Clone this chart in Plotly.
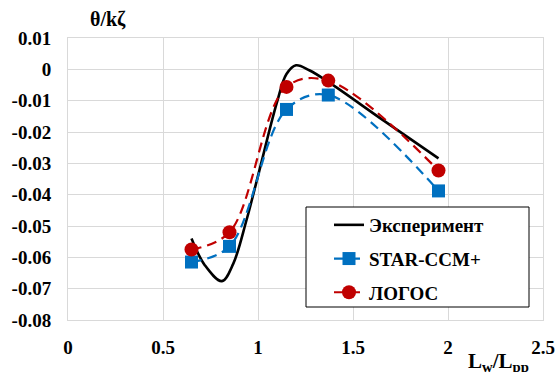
import plotly.graph_objects as go

# Experimental curve (smoothed)
exp_x = [0.65, 0.72, 0.81, 0.87, 0.94, 1.0, 1.1, 1.15, 1.2, 1.27, 1.37, 1.66, 1.95]
exp_y = [-0.054, -0.0625, -0.0676, -0.062, -0.048, -0.034, -0.0105, -0.0015, 0.0013,
         -0.0003, -0.004, -0.0163, -0.0284]

# STAR-CCM+ results
star_x = [0.65, 0.85, 1.15, 1.37, 1.95]
star_y = [-0.0615, -0.0565, -0.0128, -0.0082, -0.0388]

# LOGOS results
logos_x = [0.65, 0.85, 1.15, 1.37, 1.95]
logos_y = [-0.0575, -0.052, -0.0056, -0.0036, -0.0323]

x_ticks = [0, 0.5, 1, 1.5, 2, 2.5]
y_ticks = [0.01, 0, -0.01, -0.02, -0.03, -0.04, -0.05, -0.06, -0.07, -0.08]

FONT = "Liberation Serif"
BLUE = "#0070C0"
RED = "#C00000"

fig = go.Figure()
fig.add_trace(go.Scatter(
    x=exp_x, y=exp_y, name="Эксперимент", mode="lines",
    line=dict(color="black", width=2.6, shape="spline", smoothing=1),
    legendgroup="a",
))
fig.add_trace(go.Scatter(
    x=star_x, y=star_y, name="STAR-CCM+", mode="lines+markers",
    line=dict(color=BLUE, width=2.2, dash="10px,6px", shape="spline", smoothing=1),
    marker=dict(symbol="square", size=13, color=BLUE),
    legendgroup="b",
))
fig.add_trace(go.Scatter(
    x=logos_x, y=logos_y, name="ЛОГОС", mode="lines+markers",
    line=dict(color=RED, width=2.2, dash="10px,6px", shape="spline", smoothing=1),
    marker=dict(symbol="circle", size=14, color=RED),
    legendgroup="c",
))

# plot area in pixels: x 68..543, y 38..320
W, H = 555, 372
L, R, T, B = 68, 12, 38, 52
pw, ph = W - L - R, H - T - B


def px(xp):
    return (xp - L) / pw


def py(yp):
    return (H - B - yp) / ph


grid = "#d9d9d9"
tfont = dict(family=FONT, size=19, color="black", weight="bold")
fig.update_layout(
    template="none",
    width=W, height=H,
    margin=dict(l=L, r=R, t=T, b=B),
    paper_bgcolor="white", plot_bgcolor="white",
    font=tfont,
    showlegend=True,
    legend=dict(
        x=px(329), y=py(206), xanchor="left", yanchor="top",
        borderwidth=0, bgcolor="rgba(0,0,0,0)",
        traceorder="grouped", tracegroupgap=6,
        font=tfont,
    ),
    shapes=[
        # legend frame
        dict(type="rect", xref="paper", yref="paper",
             x0=px(306), x1=px(529), y0=py(307), y1=py(207),
             line=dict(color="black", width=1), fillcolor="white", layer="above"),
    ],
    xaxis=dict(
        range=[0, 2.5], tickvals=x_ticks, ticktext=[f"{v:g}" for v in x_ticks],
        tickfont=tfont,
        showgrid=True, gridcolor=grid, gridwidth=1, zeroline=False,
        showline=True, linecolor=grid, mirror=True, ticks="", ticklabelstandoff=10,
    ),
    yaxis=dict(
        range=[-0.08, 0.01], tickvals=y_ticks, ticktext=[f"{v:g}" for v in y_ticks],
        tickfont=tfont,
        showgrid=True, gridcolor=grid, gridwidth=1, zeroline=False,
        showline=True, linecolor=grid, mirror=True, ticks="", ticklabelstandoff=12,
    ),
    annotations=[
        dict(text="θ/kζ", xref="paper", yref="paper", x=px(108), y=1.0,
             yshift=6, xanchor="center", yanchor="bottom", showarrow=False,
             font=dict(family=FONT, size=20, weight="bold")),
        dict(text="L<sub>w</sub>/L<sub>pp</sub>", xref="paper", yref="paper",
             x=px(531), y=0, yshift=-27, xanchor="right", yanchor="top", showarrow=False,
             font=dict(family=FONT, size=21, weight="bold")),
    ],
)

fig.write_html("out.html")
